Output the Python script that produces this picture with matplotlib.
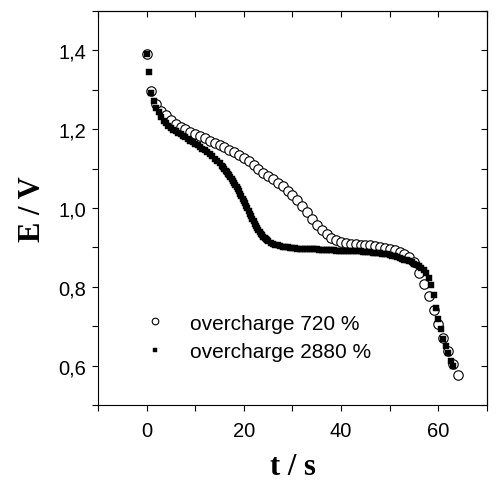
import matplotlib
matplotlib.use("Agg")
import matplotlib.pyplot as plt
from matplotlib.ticker import MultipleLocator, FuncFormatter

# overcharge 720 % (open circles)
t_720 = [0, 1, 2, 3, 4, 5, 6, 7, 8, 9, 10, 11, 12, 13, 14, 15, 16, 17, 18, 19,
         20, 21, 22, 23, 24, 25, 26, 27, 28, 29, 30, 31, 32, 33, 34, 35, 36, 37, 38, 39,
         40, 41, 42, 43, 44, 45, 46, 47, 48, 49, 50, 51, 52, 53, 54, 55, 56, 57, 58, 59,
         60, 61, 62, 63, 64]
e_720 = [1.392, 1.297, 1.265, 1.247, 1.235, 1.224, 1.214, 1.206, 1.200, 1.193,
         1.187, 1.182, 1.177, 1.171, 1.166, 1.160, 1.154, 1.148, 1.142, 1.135,
         1.128, 1.119, 1.110, 1.100, 1.090, 1.081, 1.073, 1.064, 1.055, 1.044,
         1.033, 1.020, 1.005, 0.990, 0.973, 0.958, 0.944, 0.933, 0.925, 0.918,
         0.914, 0.911, 0.909, 0.908, 0.907, 0.906, 0.905, 0.903, 0.901, 0.899,
         0.897, 0.894, 0.889, 0.884, 0.876, 0.862, 0.835, 0.806, 0.776, 0.742,
         0.706, 0.670, 0.636, 0.603, 0.577]

# overcharge 2880 % (filled squares)
t_2880 = [0.0, 0.5, 1.0, 1.5, 2.0, 2.5, 3.0, 3.5, 4.0, 4.5,
          5.0, 5.5, 6.0, 6.5, 7.0, 7.5, 8.0, 8.5, 9.0, 9.5,
          10.0, 10.5, 11.0, 11.5, 12.0, 12.5, 13.0, 13.5, 14.0, 14.5,
          15.0, 15.5, 15.75, 16.0, 16.25, 16.5, 16.75, 17.0, 17.25, 17.5, 17.75,
          18.0, 18.25, 18.5, 18.75, 19.0, 19.25, 19.5, 19.75,
          20.0, 20.25, 20.5, 20.75, 21.0, 21.25, 21.5, 21.75,
          22.0, 22.25, 22.5, 22.75, 23.0, 23.25, 23.5, 23.75,
          24.0, 24.25, 24.5, 24.75, 25.0, 25.5, 26.0, 26.5, 27.0, 27.5,
          28.0, 28.5, 29.0, 29.5,
          30.0, 30.5, 31.0, 31.5, 32.0, 32.5, 33.0, 33.5, 34.0, 34.5,
          35.0, 35.5, 36.0, 36.5, 37.0, 37.5, 38.0, 38.5, 39.0, 39.5,
          40.0, 40.5, 41.0, 41.5, 42.0, 42.5, 43.0, 43.5, 44.0, 44.5,
          45.0, 45.5, 46.0, 46.5, 47.0, 47.5, 48.0, 48.5, 49.0, 49.5,
          50.0, 50.5, 51.0, 51.5, 52.0, 52.5, 53.0, 53.5, 54.0, 54.5,
          55.0, 55.5, 56.0, 56.5, 57.0, 57.5, 58.0, 58.5, 59.0, 59.5,
          60.0, 60.5, 61.0, 61.5, 62.0, 62.5, 63.0]
e_2880 = [1.392, 1.344, 1.293, 1.272, 1.255, 1.243, 1.232, 1.222, 1.215, 1.209,
          1.204, 1.199, 1.195, 1.191, 1.187, 1.183, 1.179, 1.175, 1.171, 1.167,
          1.163, 1.159, 1.155, 1.150, 1.146, 1.141, 1.136, 1.131, 1.125, 1.119,
          1.113, 1.106, 1.103, 1.099, 1.095, 1.091, 1.087, 1.083, 1.079, 1.074, 1.069,
          1.064, 1.059, 1.053, 1.048, 1.042, 1.036, 1.030, 1.024,
          1.018, 1.012, 1.005, 0.999, 0.992, 0.986, 0.979, 0.972,
          0.966, 0.960, 0.954, 0.949, 0.944, 0.939, 0.935, 0.931,
          0.927, 0.924, 0.921, 0.918, 0.916, 0.912, 0.909, 0.907, 0.905, 0.903,
          0.902, 0.901, 0.900, 0.899,
          0.898, 0.898, 0.897, 0.897, 0.897, 0.896, 0.896, 0.896, 0.895, 0.895,
          0.895, 0.894, 0.894, 0.894, 0.894, 0.893, 0.893, 0.893, 0.892, 0.892,
          0.892, 0.892, 0.891, 0.891, 0.891, 0.890, 0.890, 0.890, 0.890, 0.889,
          0.889, 0.888, 0.888, 0.887, 0.887, 0.886, 0.885, 0.884, 0.883, 0.882,
          0.881, 0.879, 0.877, 0.875, 0.873, 0.871, 0.869, 0.867, 0.865, 0.862,
          0.859, 0.856, 0.852, 0.847, 0.842, 0.834, 0.822, 0.805, 0.778, 0.746,
          0.718, 0.694, 0.668, 0.650, 0.632, 0.612, 0.600]

labels = ["overcharge 720 %", "overcharge 2880 %"]

plt.rcParams['font.family'] = ['Liberation Sans', 'DejaVu Sans']

fig = plt.figure(figsize=(4.97, 4.81), dpi=100)
ax = fig.add_axes([0.197, 0.156, 0.783, 0.819])

ax.plot(t_720, e_720, linestyle='none', marker='o', ms=6.8, mfc='white',
        mec='black', mew=0.8, label=labels[0], zorder=2)
ax.plot(t_2880, e_2880, linestyle='none', marker='s', ms=3.9, mfc='black',
        mec='black', mew=0.3, label=labels[1], zorder=3)

ax.set_xlim(-10, 70)
ax.set_ylim(0.5, 1.5)

ax.xaxis.set_major_locator(MultipleLocator(20))
ax.xaxis.set_minor_locator(MultipleLocator(10))
ax.yaxis.set_major_locator(MultipleLocator(0.2))
ax.yaxis.set_minor_locator(MultipleLocator(0.1))
ax.yaxis.set_major_formatter(FuncFormatter(lambda v, p: f"{v:.1f}".replace('.', ',')))
ax.xaxis.set_major_formatter(FuncFormatter(lambda v, p: f"{v:.0f}"))

ax.tick_params(which='both', direction='out', length=4.5, width=0.8,
               labelsize=14.5, top=False, right=False)
ax.tick_params(axis='x', pad=7)
ax.tick_params(axis='y', pad=4)

# inward ticks on top and right
top = ax.secondary_xaxis('top')
top.xaxis.set_major_locator(MultipleLocator(10))
top.tick_params(direction='in', length=4.5, width=0.8, labeltop=False)
right = ax.secondary_yaxis('right')
right.yaxis.set_major_locator(MultipleLocator(0.1))
right.tick_params(direction='in', length=4.5, width=0.8, labelright=False)

for s in list(ax.spines.values()) + [top.spines['top'], right.spines['right']]:
    s.set_linewidth(0.8)

ax.set_xlabel("t / s", family='Liberation Serif', fontweight='bold', fontsize=22, labelpad=9)
ax.set_ylabel("E / V", family='Liberation Serif', fontweight='bold', fontsize=22, labelpad=8)

leg = ax.legend(loc='center left', bbox_to_anchor=(0.12, 0.172), frameon=False,
                fontsize=15, handlelength=1.0, handletextpad=1.2, labelspacing=0.45,
                borderpad=0, borderaxespad=0, markerscale=0.7)

fig.savefig("out.png", dpi=100)
